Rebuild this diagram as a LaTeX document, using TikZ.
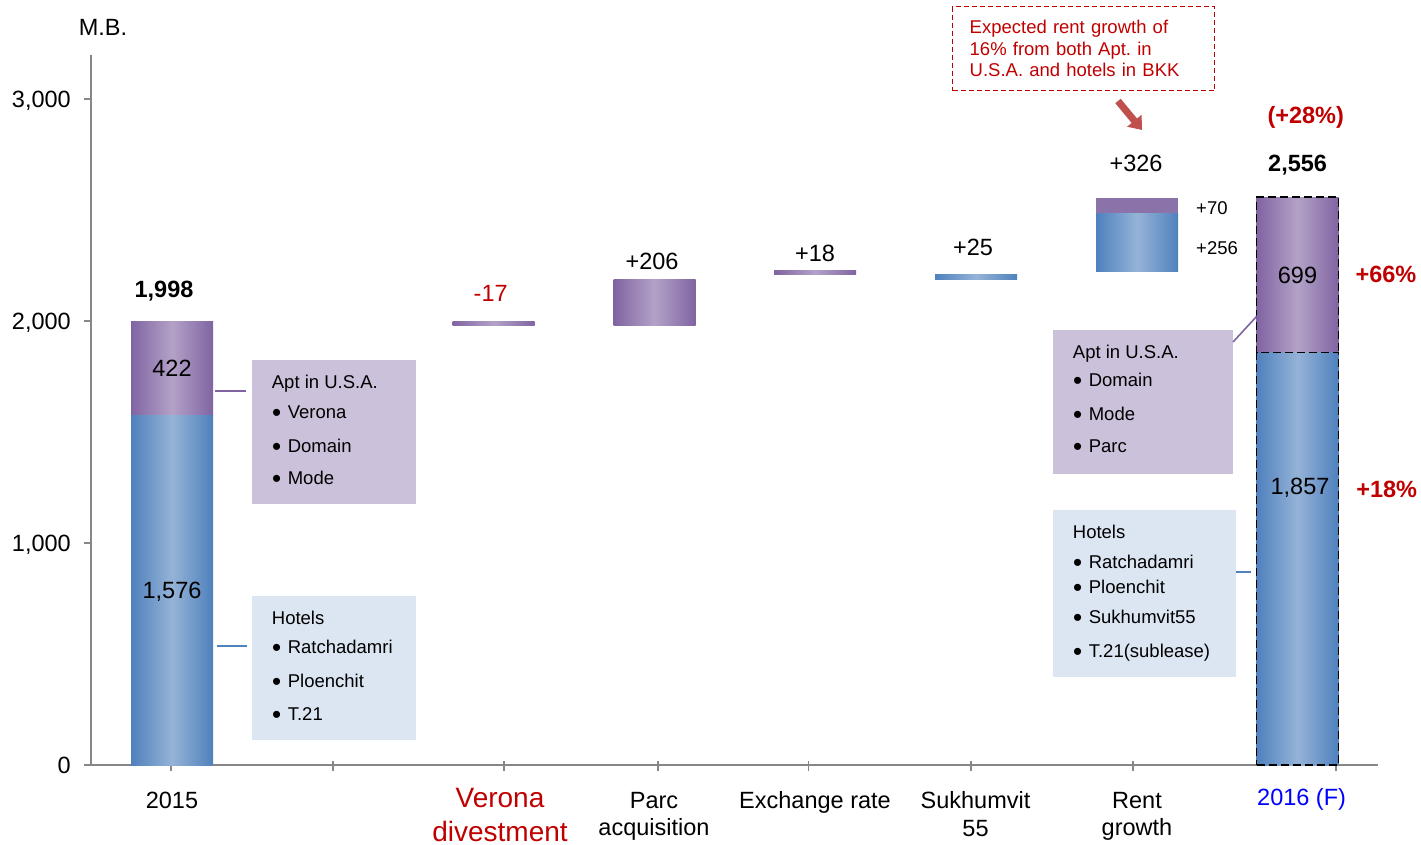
\documentclass[tikz,border=0pt]{standalone}
\usepackage{fontspec}
\setmainfont{Liberation Sans}
\usetikzlibrary{arrows.meta}
\frenchspacing
\definecolor{purD}{HTML}{8064A2}
\definecolor{purL}{HTML}{B3A2C7}
\definecolor{bluD}{HTML}{4F81BD}
\definecolor{bluL}{HTML}{95B3D7}
\definecolor{aptfill}{HTML}{CCC1DA}
\definecolor{htlfill}{HTML}{DCE6F2}
\definecolor{darkred}{HTML}{C00000}
\definecolor{arrred}{HTML}{C0504D}
\definecolor{axisgray}{HTML}{878787}
\definecolor{rentpur}{HTML}{8B73A9}
\newcommand{\bul}{\raisebox{-2.8pt}{\fontsize{26}{26}\selectfont •}\hspace{6.5pt}}
\tikzset{
  bigtxt/.style={font=\fontsize{23.5}{27}\selectfont, inner sep=0pt, text height=16.8pt, text depth=0pt},
  smalltxt/.style={font=\fontsize{18.5}{22}\selectfont, inner sep=0pt, text height=13.2pt, text depth=0pt},
  cattxt/.style={font=\fontsize{28}{32}\selectfont, inner sep=0pt, text height=20pt, text depth=0pt, text=darkred},
  barbox/.style={rectangle, inner sep=0pt, minimum width=82pt},
  purbar/.style={barbox, left color=purD, right color=purD, middle color=purL},
  blubar/.style={barbox, left color=bluD, right color=bluD, middle color=bluL},
  forecast/.style={draw=black, line width=1.8pt, dash pattern=on 8pt off 4pt},
  aptbox/.style={rectangle, fill=aptfill, inner sep=0pt},
  htlbox/.style={rectangle, fill=htlfill, inner sep=0pt},
  axisline/.style={draw=axisgray, line width=1.8pt},
  aptlink/.style={draw=purD, line width=1.6pt},
  htllink/.style={draw=bluD, line width=1.6pt},
  callout/.style={draw=darkred, line width=1.5pt, dash pattern=on 5pt off 3pt, text=darkred,
    font=\fontsize{18.5}{21.5}\selectfont, align=left, text width=228pt,
    minimum width=262pt, minimum height=84pt, inner sep=0pt},
  bigarrow/.style={draw=arrred, line width=7pt, -{Triangle[length=12pt,width=18pt]}}
}
\begin{document}
\begin{tikzpicture}[x=1pt,y=-1pt]
\useasboundingbox (0,0) rectangle (1421,845);

% axes
\draw[axisline] (91,55) -- (91,765);
\draw[axisline] (84,765) -- (1378,765);
\foreach \y in {99,321,543} \draw[axisline] (84,\y) -- (91,\y);
\foreach \x in {170.7,333.3,504,658,808.5,971,1133.3,1336} \draw[axisline] (\x,761) -- (\x,771);
\node[bigtxt] (unit) at (103,27) {M.B.};
\node[bigtxt, anchor=east] (y0) at (71,765) {0};
\node[bigtxt, anchor=east] (y1) at (71,543) {1,000};
\node[bigtxt, anchor=east] (y2) at (71,321) {2,000};
\node[bigtxt, anchor=east] (y3) at (71,99) {3,000};

% 2015
\node[purbar, bigtxt, minimum height=94.7pt] (p15) at (172,368.35) {422};
\node[blubar, bigtxt, minimum height=349.3pt] (b15) at (172,590.35) {1,576};
\node[bigtxt, font=\fontsize{23.5}{27}\selectfont\bfseries] (t15) at (164,289) {1,998};

% steps
\node[purbar, minimum height=4.7pt] (vero) at (493.5,323.35) {};
\node[bigtxt, text=darkred] (dvero) at (490.7,293) {-17};
\node[purbar, minimum height=46.7pt] (parc) at (654.5,302.35) {};
\node[bigtxt] (dparc) at (652,260.7) {+206};
\node[purbar, minimum height=4.7pt] (exch) at (815,272.35) {};
\node[bigtxt] (dexch) at (815,252.7) {+18};
\node[blubar, minimum height=5.7pt] (sukh) at (976.2,276.85) {};
\node[bigtxt] (dsukh) at (973,246.7) {+25};
\node[barbox, fill=rentpur, minimum height=16pt] (rentP) at (1137.2,206) {};
\node[blubar, minimum height=57pt] (rentB) at (1137.2,242.5) {};
\node[bigtxt] (drent) at (1136,162.7) {+326};
\node[smalltxt, anchor=west] (drentP) at (1196,208) {+70};
\node[smalltxt, anchor=west] (drentB) at (1196,248) {+256};

% 2016 (F)
\node[purbar, forecast, bigtxt, minimum height=155.2pt] (p16) at (1297.5,274.9) {699};
\node[blubar, forecast, minimum height=412.5pt] (b16) at (1297.5,558.75) {};
\node[bigtxt] (v16) at (1300,485.7) {1,857};
\node[bigtxt, font=\fontsize{23.5}{27}\selectfont\bfseries] (t16) at (1297.6,163) {2,556};
\node[bigtxt, font=\fontsize{23.5}{27}\selectfont\bfseries, text=darkred] (g16) at (1305.7,115) {(+28\%)};
\node[bigtxt, font=\fontsize{23.5}{27}\selectfont\bfseries, text=darkred] (gp16) at (1386,274) {+66\%};
\node[bigtxt, font=\fontsize{23.5}{27}\selectfont\bfseries, text=darkred] (gb16) at (1386.7,489.3) {+18\%};

% rent note
\node[callout] (note) at (1083.7,48.7) {Expected rent growth of\\16\% from both Apt. in\\U.S.A. and hotels in BKK};
\coordinate (noteA) at (1118,101);
\coordinate (noteB) at (1142,130);
\draw[bigarrow] (noteA) -- (noteB);

% boxes 2015
\node[aptbox, minimum width=164pt, minimum height=143.7pt] (aptL) at (334,431.85) {};
\node[smalltxt, anchor=west] (aptL-0) at (271.7,381.7) {Apt in U.S.A.};
\foreach \t/\y [count=\i] in {Verona/411.7, Domain/445.7, Mode/477.7}
  \node[smalltxt, anchor=west] (aptL-\i) at (272,\y) {\bul\t};
\node[htlbox, minimum width=164pt, minimum height=144pt] (htlL) at (334,668) {};
\node[smalltxt, anchor=west] (htlL-0) at (271.7,617.7) {Hotels};
\foreach \t/\y [count=\i] in {Ratchadamri/646.7, Ploenchit/681, T.21/714}
  \node[smalltxt, anchor=west] (htlL-\i) at (272,\y) {\bul\t};
\coordinate (aptL-a) at (246,391);
\coordinate (aptL-b) at (215,391);
\draw[aptlink] (aptL-a) -- (aptL-b);
\coordinate (htlL-a) at (247,646);
\coordinate (htlL-b) at (217,646);
\draw[htllink] (htlL-a) -- (htlL-b);

% boxes 2016
\node[aptbox, minimum width=180pt, minimum height=143.7pt] (aptR) at (1143,401.85) {};
\node[smalltxt, anchor=west] (aptR-0) at (1072.7,351.7) {Apt in U.S.A.};
\foreach \t/\y [count=\i] in {Domain/380, Mode/414, Parc/446}
  \node[smalltxt, anchor=west] (aptR-\i) at (1073,\y) {\bul\t};
\node[htlbox, minimum width=183pt, minimum height=166.7pt] (htlR) at (1144.5,593.35) {};
\node[smalltxt, anchor=west] (htlR-0) at (1072.7,531.7) {Hotels};
\foreach \t/\y [count=\i] in {Ratchadamri/561.7, Ploenchit/587, Sukhumvit55/617, T.21(sublease)/650.7}
  \node[smalltxt, anchor=west] (htlR-\i) at (1073,\y) {\bul\t};
\coordinate (aptR-a) at (1233,342);
\coordinate (aptR-b) at (1257,316);
\draw[aptlink] (aptR-a) -- (aptR-b);
\coordinate (htlR-a) at (1236,572);
\coordinate (htlR-b) at (1251,572);
\draw[htllink] (htlR-a) -- (htlR-b);

% category labels
\node[bigtxt] (c15) at (172,800) {2015};
\node[cattxt] (cvero1) at (500,797) {Verona};
\node[cattxt] (cvero2) at (500,831) {divestment};
\node[bigtxt] (cparc1) at (654,800) {Parc};
\node[bigtxt] (cparc2) at (654,827.5) {acquisition};
\node[bigtxt] (cexch) at (815,800) {Exchange rate};
\node[bigtxt] (csukh1) at (975.5,800) {Sukhumvit};
\node[bigtxt] (csukh2) at (975.5,828.5) {55};
\node[bigtxt] (crent1) at (1137,800) {Rent};
\node[bigtxt] (crent2) at (1137,827.5) {growth};
\node[bigtxt, text=blue] (c16) at (1301.6,797) {2016 (F)};
\end{tikzpicture}
\end{document}
